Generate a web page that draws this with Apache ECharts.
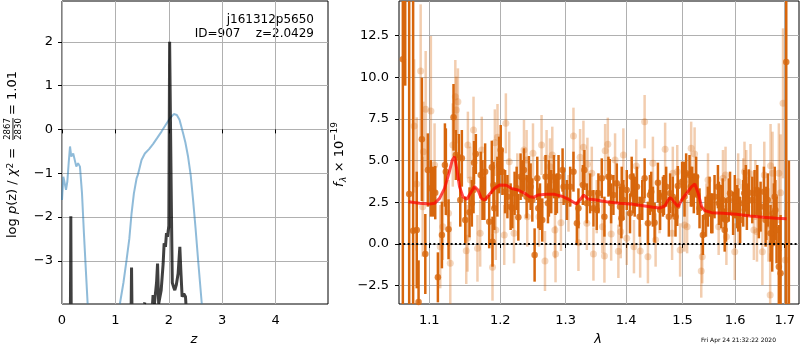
<!DOCTYPE html>
<html><head><meta charset="utf-8">
<script src="https://cdn.jsdelivr.net/npm/echarts@6/dist/echarts.min.js"></script>
<style>html,body{margin:0;padding:0;background:#fff}#c{width:800px;height:350px}</style>
</head><body><div id="c"></div>
<script>
// ---------- left panel: log p(z) ----------
const zBlue = [0,0.025,0.044,0.075,0.10,0.125,0.15,0.174,0.21,0.243,0.268,0.30,0.336,0.374,0.41,0.449,0.48,null,
  1.084,1.15,1.209,1.26,1.302,1.346,1.396,1.42,1.489,1.551,1.63,1.707,1.78,1.863,1.94,2.019,2.093,2.15,2.2,2.267,2.31,2.36,2.41,2.454,2.50,2.548,2.617];
const logpBlue = [-1.61,-1.08,-1.19,-1.38,-1.19,-0.77,-0.39,-0.62,-0.55,-0.55,-0.85,-0.77,-0.85,-1.45,-2.36,-3.27,-3.98,null,
  -3.98,-3.5,-2.98,-2.5,-1.92,-1.46,-1.12,-1.04,-0.70,-0.55,-0.45,-0.33,-0.2,-0.05,0.1,0.25,0.35,0.33,0.22,-0.09,-0.3,-0.62,-1.05,-1.61,-2.25,-2.98,-3.98];
const zDark = [0.158,0.165,0.172,null,1.295,1.302,1.309,null,1.545,1.551,1.557,null,
  1.695,1.705,1.715,1.73,1.77,1.789,1.81,1.83,1.857,1.894,1.912,1.937,1.956,1.975,2.0,2.015,2.03,2.05,2.065,2.09,2.112,2.14,2.174,2.206,2.224,2.249,2.28,2.312,2.32];
const logpDark = [-3.98,-1.98,-3.98,null,-3.98,-3.15,-3.98,null,-3.98,-3.95,-3.98,null,
  -3.98,-3.78,-3.85,-3.98,-3.5,-3.06,-3.98,-3.98,-3.67,-3.06,-2.6,-2.68,-2.37,-2.45,-2.2,2.0,2.0,-2.0,-3.5,-3.6,-3.67,-3.55,-3.29,-2.68,-3.2,-3.82,-3.75,-3.82,-3.98];
const leftXTicks = [0,1,2,3,4];
const leftYTicks = [-3,-2,-1,0,1,2];

// ---------- right panel: spectrum ----------
const darkWave = [
 1.0650,1.0681,1.0733,1.0785,1.0833,1.0857,1.0901,1.0947,1.1022,1.1054,
 1.1081,1.1117,1.1172,1.1226,1.1263,1.1332,1.1364,1.1406,1.1426,1.1496,
 1.1556,1.1589,1.1620,1.1646,1.1716,1.1838,1.1876,1.1900,1.2006,1.2031,
 1.2105,1.2153,1.2212,1.2268,1.2302,1.2353,1.2393,1.2429,1.2480,1.2515,
 1.2556,1.2598,1.2684,1.2773,1.2815,1.2862,1.2951,1.2967,1.3072,1.3125,
 1.3180,1.3205,1.3277,1.3342,1.3395,1.3450,1.3505,1.3588,1.3632,1.3699,
 1.3783,1.3840,1.3895,1.3952,1.4010,1.4066,1.4147,1.4233,1.4320,1.4378,
 1.4436,1.4496,1.4555,1.4644,1.4703,1.4751,1.4823,1.4914,1.4993,1.5067,
 1.5129,1.5178,1.5253,1.5316,1.5379,1.5474,1.5537,1.5600,1.5665,1.5730,
 1.5795,1.5873,1.5959,1.6058,1.6158,1.6210,1.6270,1.6338,1.6438,1.6505,
 1.6572,1.6607,1.6708,1.6776,1.6831,1.6878,1.6914,1.7032,1.7087,
 1.1767,1.1886,1.1912,1.2178,1.2572,1.2633,1.2721,1.2840,1.3722,1.3918,
 1.4123,1.4413,1.4663,1.4904,1.5028,1.5154,1.5280,1.5506,1.5757,1.6039,
 1.6177,1.6384,1.6621,1.6806,
 1.0981,1.1213,1.1448,1.1613,1.1741,1.1779,1.1957,1.1983,1.2071,1.2243,
 1.2328,1.2454,1.2736,1.2887,1.3020,1.3302,1.3532,1.3744,1.3924,1.4095,
 1.4186,1.4278,1.4466,1.4594,1.4774,1.4872,1.5037,1.5209,1.5430,1.5559,
 1.5685,1.5818,1.5899,1.5992,1.6097,1.6230,1.6469,1.6651,1.6742,1.6794];
const darkFlux = [
 11.08,15.5,3.0,0.8,0.84,-3.48,6.28,-0.6,3.34,3.14,
 3.08,-2.0,0.54,4.34,0.88,7.6,5.34,5.2,2.64,1.44,
 1.9,2.44,4.88,5.4,4.14,1.34,4.6,3.54,5.64,4.34,
 2.84,2.24,3.04,1.6,4.04,4.44,2.84,3.88,2.64,-0.66,
 3.94,2.24,4.04,3.14,4.04,3.04,4.44,3.44,3.44,4.34,
 1.24,2.14,3.54,2.44,3.04,2.14,2.04,3.94,1.64,4.04,
 2.94,3.64,2.24,2.64,3.24,1.84,2.84,1.64,3.94,1.24,
 3.14,1.28,3.68,2.84,3.44,1.64,2.84,3.48,3.74,4.24,
 4.14,3.44,4.04,2.14,0.54,2.24,1.84,2.84,3.44,2.24,
 0.84,2.64,1.84,2.04,2.44,3.34,3.08,2.64,3.24,2.24,
 3.14,1.44,0.64,1.84,0.84,-1.36,-1.76,10.92,-5.0,
 2.74,0.14,2.14,2.14,2.14,1.44,2.44,2.94,4.0,1.54,
 3.04,2.94,2.94,2.28,3.74,3.44,2.94,2.84,2.64,2.24,
 3.04,3.04,1.84,2.04,
 4.44,4.74,5.14,3.24,3.24,4.34,3.44,4.74,3.14,3.34,
 3.94,3.44,3.34,4.04,2.64,4.44,3.04,2.44,3.44,4.04,
 3.44,2.64,2.24,2.04,3.04,1.64,2.84,3.04,1.64,1.84,
 2.44,1.44,3.04,2.84,1.44,2.24,1.84,2.64,0.04,2.84];
const darkErr = [
 16,6,18,16,3.5,2.5,3.7,2.4,1.7,1.5,
 1.6,1.5,2.0,2.6,1.8,2.0,1.5,1.4,1.6,1.4,
 1.5,1.4,1.3,1.2,1.4,1.6,1.6,1.4,1.5,1.4,
 1.3,1.4,1.3,1.4,1.4,1.3,1.3,1.4,1.3,1.6,
 1.3,1.4,1.3,1.3,1.3,1.2,1.3,1.1,1.2,1.2,
 1.3,1.2,1.2,1.2,1.2,1.1,1.2,1.2,1.2,1.2,
 1.2,1.2,1.2,1.2,1.2,1.2,1.2,1.2,1.2,1.3,
 1.2,1.2,1.2,1.2,1.2,1.2,1.2,1.2,1.2,1.2,
 1.2,1.2,1.2,1.2,1.2,1.2,1.2,1.3,1.3,1.3,
 1.3,1.3,1.3,1.3,1.4,1.4,1.4,1.4,1.5,1.5,
 1.5,1.6,1.7,1.8,2.0,2.5,3.5,16,10,
 1.3,1.5,1.3,1.2,1.2,1.3,1.2,1.2,1.1,1.2,
 1.2,1.2,1.2,1.2,1.2,1.2,1.2,1.2,1.3,1.3,
 1.4,1.4,1.6,1.8,
 2.2,2.5,1.7,1.4,1.8,1.7,1.8,1.7,1.3,1.3,
 1.1,1.4,1.7,1.3,1.2,1.2,1.2,1.2,1.2,1.2,
 1.2,1.2,1.2,1.2,1.2,1.2,1.2,1.2,1.2,1.2,
 1.3,1.3,1.3,1.3,1.4,1.4,1.5,1.6,1.7,1.8];

const lightWave = [
 1.0798,1.0833,1.0885,1.0912,1.0921,1.0952,1.1022,1.1072,1.1149,1.1185,
 1.1263,1.1287,1.1322,1.1357,1.1371,1.1393,1.1510,1.1533,1.1528,1.1567,
 1.1613,1.1669,1.1708,1.1731,1.1886,1.1920,1.1934,1.1959,1.2058,1.2082,
 1.2132,1.2203,1.2253,1.2353,1.2393,1.2403,1.2490,1.2582,1.2622,1.2675,
 1.2700,1.2752,1.2789,1.2830,1.2840,1.2925,1.3045,1.3125,1.3205,1.3232,
 1.3286,1.3342,1.3351,1.3423,1.3450,1.3505,1.3632,1.3644,1.3689,1.3745,
 1.3811,1.3867,1.3952,1.4010,1.4174,1.4242,1.4320,1.4378,1.4466,1.4584,
 1.4684,1.4823,1.4956,1.5037,1.5160,1.5224,1.5348,1.5367,1.5762,1.5828,
 1.5991,1.6058,1.6158,1.6303,1.6370,1.6541,1.6708,1.6700,1.6748,1.6878,
 1.6914,1.6965,1.7013,1.5445,1.5476,1.6183,
 1.4904,1.5812,1.6218,1.6401,1.6580,1.3598,1.3907,1.4134,1.4514,1.4810,
 1.5085,1.5679,1.6066,1.6432,1.6665];
const lightFlux = [
 7.08,3.6,10.38,2.24,5.54,8.08,7.98,4.74,-0.16,1.04,
 1.84,-1.16,5.94,8.84,8.04,8.54,-0.4,5.94,0.34,3.84,
 6.84,-0.26,0.64,5.64,-1.4,6.08,0.84,6.4,0.54,7.24,
 4.94,0.64,3.64,5.64,5.04,1.64,5.44,1.64,5.94,-1.02,
 5.14,4.64,5.34,0.84,-0.6,1.28,2.44,6.48,0.08,5.2,
 5.8,1.24,4.78,4.24,-0.6,2.24,-0.72,5.6,5.98,0.6,
 5.04,-0.44,5.34,0.34,4.68,-0.42,7.34,-0.76,4.84,2.24,
 5.68,4.24,-0.36,1.14,5.74,5.4,-1.62,-0.76,3.94,0.44,
 -0.46,3.74,3.44,4.2,0.84,-0.46,4.7,-3.06,4.24,4.24,
 3.08,8.44,-0.96,2.04,3.84,4.34,
 4.34,4.14,3.84,3.24,4.14,1.04,0.74,-0.16,0.24,0.64,
 1.04,1.04,1.64,0.74,1.14];
const lightErr = [
 4.0,4.0,4.0,3.0,3.0,3.5,4.5,2.5,2.5,2.0,
 2.0,2.5,2.5,2.2,2.0,2.0,2.0,2.0,2.0,2.0,
 2.0,2.0,2.0,2.0,2.0,2.0,1.8,2.0,1.8,1.8,
 1.8,1.8,1.8,1.8,1.8,1.8,1.8,1.8,1.8,1.8,
 1.7,1.7,1.7,1.7,1.7,1.7,1.7,1.7,1.7,1.7,
 1.6,1.6,1.6,1.6,1.6,1.6,1.6,1.6,1.6,1.6,
 1.6,1.6,1.6,1.6,1.6,1.6,1.6,1.6,1.6,1.6,
 1.6,1.6,1.6,1.6,1.6,1.6,1.6,1.6,1.7,1.7,
 1.7,1.7,1.7,1.8,1.8,2.0,2.5,2.5,2.5,3.0,
 3.5,4.5,3.0,1.6,1.6,1.8,
 1.6,1.7,1.8,1.8,2.0,1.6,1.6,1.6,1.6,1.6,
 1.6,1.7,1.7,1.8,2.2];

const modelWave = [1.0725,1.0870,1.1004,1.1072,1.1140,1.1208,1.1268,1.1315,1.1347,1.1379,1.1416,1.1463,1.1519,1.1567,1.1628,1.1676,1.1724,1.1772,1.1834,1.1917,
 1.1990,1.2089,1.2163,1.2262,1.2364,1.2440,1.2501,1.2567,1.2697,1.2827,1.2958,1.3065,1.3173,1.3237,1.3291,1.3361,1.3500,1.3666,1.3891,1.4119,
 1.4293,1.4470,1.4589,1.4679,1.4739,1.4782,1.4842,1.4920,1.4983,1.5075,1.5168,1.5229,1.5291,1.5355,1.5417,1.5544,1.5767,1.6027,1.6291,1.6558,1.6833,1.7040];
const modelFlux = [2.54,2.44,2.4,2.44,2.74,3.34,4.24,5.04,5.24,4.44,3.44,2.84,2.68,3.04,3.44,3.24,2.74,2.64,2.94,3.34,
 3.54,3.52,3.34,3.24,3.04,2.84,2.8,2.94,2.98,2.98,2.84,2.64,2.4,2.68,2.94,2.7,2.64,2.54,2.44,2.38,
 2.3,2.2,2.16,2.28,2.64,2.78,2.54,2.24,2.64,3.04,3.44,3.6,3.04,2.24,2.0,1.88,1.84,1.78,1.68,1.6,1.54,1.52];
const rightXTicks = [1.1,1.2,1.3,1.4,1.5,1.6,1.7];
const rightYTicks = [-2.5,0,2.5,5,7.5,10,12.5];

// ---------- build ----------
const FONT = 'DejaVu Sans';
const ORANGE = '#d7660c';
const zip = (a, b) => a.map((v, i) => (v === null ? [null, null] : [v, b[i]]));
const zip3 = (a, b, c) => a.map((v, i) => [v, b[i], c[i]]);
const minus = v => (v < 0 ? '\u2212' + Math.abs(v) : '' + v);

function errRender(color, width) {
  return function (params, api) {
    const x = api.value(0), y = api.value(1), e = api.value(2);
    const p1 = api.coord([x, y - e]), p2 = api.coord([x, y + e]);
    const cs = params.coordSys;
    const top = cs.y, bot = cs.y + cs.height;
    const c = v => Math.min(Math.max(v, top), bot);
    return { type: 'line', shape: { x1: p1[0], y1: c(p1[1]), x2: p2[0], y2: c(p2[1]) },
      style: { stroke: color, lineWidth: width } };
  };
}

const axisCommon = (ticks, fmt, margin) => ({
  axisLine: { show: false },
  axisTick: { show: true, length: 4, customValues: ticks, lineStyle: { color: '#000', width: 1 } },
  axisLabel: { customValues: ticks, formatter: fmt, color: '#000', fontSize: 13, fontFamily: FONT, margin: margin },
  splitLine: { show: true, lineStyle: { color: '#b0b0b0', width: 1 } }
});

const chart = echarts.init(document.getElementById('c'), null, { renderer: 'canvas' });
chart.setOption({
  animation: false,
  backgroundColor: '#fff',
  grid: [
    { left: 62, top: 1, width: 266, height: 303, show: true, borderColor: '#000', borderWidth: 1, backgroundColor: 'transparent', containLabel: false },
    { left: 399, top: 1, width: 400, height: 303, show: true, borderColor: '#000', borderWidth: 1, backgroundColor: 'transparent', containLabel: false }
  ],
  xAxis: [
    Object.assign({ type: 'value', gridIndex: 0, min: 0, max: 4.98 }, axisCommon(leftXTicks, v => minus(v), 10)),
    Object.assign({ type: 'log', logBase: 10, gridIndex: 1, min: 1.06, max: 1.73 }, axisCommon(rightXTicks, v => v.toFixed(1), 10))
  ],
  yAxis: [
    Object.assign({ type: 'value', gridIndex: 0, min: -3.985, max: 2.93 }, axisCommon(leftYTicks, v => minus(v), 9)),
    Object.assign({ type: 'value', gridIndex: 1, min: -3.6, max: 14.58 }, axisCommon(rightYTicks, v => minus(v.toFixed(1)), 10))
  ],
  series: [
    { type: 'line', xAxisIndex: 0, yAxisIndex: 0, data: zip(zBlue, logpBlue), showSymbol: false, connectNulls: false,
      lineStyle: { color: 'rgba(31,119,180,0.5)', width: 2 }, z: 3 },
    { type: 'line', xAxisIndex: 0, yAxisIndex: 0, data: zip(zDark, logpDark), showSymbol: false, connectNulls: false,
      lineStyle: { color: 'rgba(0,0,0,0.75)', width: 3 }, z: 4 },
    { type: 'custom', xAxisIndex: 1, yAxisIndex: 1, data: zip3(lightWave, lightFlux, lightErr),
      encode: { x: 0, y: 1 }, renderItem: errRender('rgba(215,102,12,0.33)', 2.5), z: 2 },
    { type: 'scatter', xAxisIndex: 1, yAxisIndex: 1, data: zip(lightWave, lightFlux), symbolSize: 7,
      itemStyle: { color: 'rgba(215,102,12,0.33)' }, z: 2 },
    { type: 'custom', xAxisIndex: 1, yAxisIndex: 1, data: zip3(darkWave, darkFlux, darkErr),
      encode: { x: 0, y: 1 }, renderItem: errRender(ORANGE, 2.5), z: 3 },
    { type: 'scatter', xAxisIndex: 1, yAxisIndex: 1, data: zip(darkWave, darkFlux), symbolSize: 6.5,
      itemStyle: { color: ORANGE }, z: 3 },
    { type: 'line', xAxisIndex: 1, yAxisIndex: 1, data: zip(modelWave, modelFlux), showSymbol: false,
      lineStyle: { color: 'rgba(255,0,0,0.7)', width: 3 }, z: 5 },
    { type: 'line', xAxisIndex: 1, yAxisIndex: 1, data: [[1.06, 0], [1.73, 0]], showSymbol: false,
      lineStyle: { color: '#000', width: 2, type: [2, 2.3] }, z: 6 }
  ],
  graphic: [
    { type: 'text', style: { text: 'j161312p5650', x: 314, y: 20, textAlign: 'right', textVerticalAlign: 'middle', font: '12px "DejaVu Sans"', fill: '#000' } },
    { type: 'text', style: { text: 'ID=907    z=2.0429', x: 314, y: 34, textAlign: 'right', textVerticalAlign: 'middle', font: '12px "DejaVu Sans"', fill: '#000' } },
    { type: 'text', style: { text: 'z', x: 194, y: 340, textAlign: 'center', textVerticalAlign: 'middle', font: 'italic 13px "DejaVu Sans"', fill: '#000' } },
    { type: 'text', style: { text: 'λ', x: 598, y: 340, textAlign: 'center', textVerticalAlign: 'middle', font: 'italic 13px "DejaVu Sans"', fill: '#000' } },
    { type: 'text', style: { text: 'Fri Apr 24 21:32:22 2020', x: 701, y: 340, textAlign: 'left', textVerticalAlign: 'middle', font: '6px "DejaVu Sans"', fill: '#000' } },
    { type: 'group', x: 13, y: 238, rotation: Math.PI / 2, children: [
      { type: 'text', style: { text: 'log {i|p}(z) / {i|χ}{s|2} =', x: 0, y: 0, textAlign: 'left', textVerticalAlign: 'middle', font: '13px "DejaVu Sans"', fill: '#000',
        rich: { i: { fontStyle: 'italic', fontSize: 13, fontFamily: FONT }, s: { fontSize: 9, fontFamily: FONT, verticalAlign: 'top' } } } },
      { type: 'text', style: { text: '2867', x: 109, y: -5, textAlign: 'center', textVerticalAlign: 'middle', font: '8.5px "DejaVu Sans"', fill: '#000' } },
      { type: 'rect', shape: { x: 98, y: -0.5, width: 22, height: 0.9 }, style: { fill: '#000' } },
      { type: 'text', style: { text: '2830', x: 109, y: 5.5, textAlign: 'center', textVerticalAlign: 'middle', font: '8.5px "DejaVu Sans"', fill: '#000' } },
      { type: 'text', style: { text: '= 1.01', x: 123, y: 0, textAlign: 'left', textVerticalAlign: 'middle', font: '13px "DejaVu Sans"', fill: '#000' } }
    ] },
    { type: 'group', x: 340, y: 187, rotation: Math.PI / 2, children: [
      { type: 'text', style: { text: 'f', x: 0, y: 0, textAlign: 'left', textVerticalAlign: 'middle', font: 'italic 13px "DejaVu Sans"', fill: '#000' } },
      { type: 'text', style: { text: 'λ', x: 5, y: 3.5, textAlign: 'left', textVerticalAlign: 'middle', font: 'italic 9px "DejaVu Sans"', fill: '#000' } },
      { type: 'text', style: { text: ' × 10', x: 10.5, y: 0, textAlign: 'left', textVerticalAlign: 'middle', font: '13px "DejaVu Sans"', fill: '#000' } },
      { type: 'text', style: { text: '\u221219', x: 46, y: -5, textAlign: 'left', textVerticalAlign: 'middle', font: '9px "DejaVu Sans"', fill: '#000' } }
    ] }
  ]
});
</script>
</body></html>
